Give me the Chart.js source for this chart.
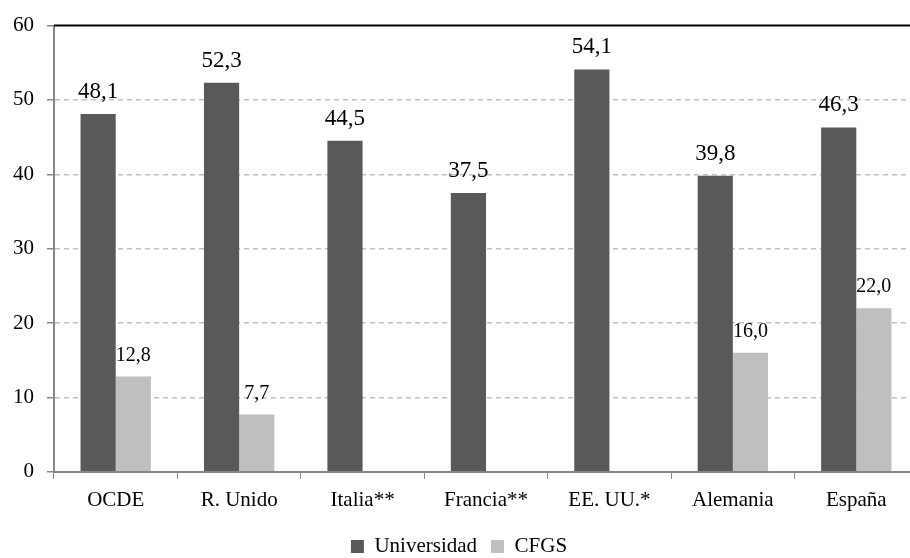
<!DOCTYPE html>
<html>
<head>
<meta charset="utf-8">
<script src="https://cdn.jsdelivr.net/npm/chart.js@4"></script>
<style>
  html, body { margin: 0; padding: 0; background: #fff; overflow: hidden; }
  #wrap { width: 918px; height: 558px; }
</style>
</head>
<body>
<div id="wrap"><canvas id="myChart"></canvas></div>
<script>
var categories = ['OCDE', 'R. Unido', 'Italia**', 'Francia**', 'EE. UU.*', 'Alemania', 'España'];
var universidad = [48.1, 52.3, 44.5, 37.5, 54.1, 39.8, 46.3];
var cfgs = [12.8, 7.7, null, null, null, 16.0, 22.0];
var yTicks = [0, 10, 20, 30, 40, 50, 60];

var serif = '"Liberation Serif", "DejaVu Serif", serif';

// value labels above the bars, comma decimals
var barLabels = {
    id: 'barLabels',
    afterDatasetsDraw: function(chart) {
        var c = chart.ctx;
        chart.data.datasets.forEach(function(ds, i) {
            var meta = chart.getDatasetMeta(i);
            meta.data.forEach(function(bar, j) {
                var v = ds.data[j];
                if (v === null || v === undefined) return;
                c.save();
                c.font = (i === 0 ? '23px ' : '20px ') + serif;
                c.fillStyle = '#000';
                c.textAlign = 'center';
                c.textBaseline = 'alphabetic';
                c.fillText(v.toFixed(1).replace('.', ','), bar.x, bar.y - 16);
                c.restore();
            });
        });
    }
};

// solid black line at the top of the value axis
var topLine = {
    id: 'topLine',
    beforeDatasetsDraw: function(chart) {
        var c = chart.ctx, y = chart.scales.y.getPixelForValue(60);
        c.save();
        c.strokeStyle = '#000';
        c.lineWidth = 2;
        c.beginPath();
        c.moveTo(chart.chartArea.left, y);
        c.lineTo(chart.width, y);
        c.stroke();
        c.restore();
    }
};

var ctx = document.getElementById('myChart').getContext('2d');
var myChart = new Chart(ctx, {
    type: 'bar',
    data: {
        labels: categories,
        datasets: [{
            label: 'Universidad',
            data: universidad,
            backgroundColor: '#595959'
        }, {
            label: 'CFGS',
            data: cfgs,
            backgroundColor: '#bfbfbf'
        }]
    },
    options: {
        responsive: true,
        maintainAspectRatio: false,
        animation: false,
        datasets: {
            bar: { categoryPercentage: 0.57, barPercentage: 1.0 }
        },
        layout: { padding: { top: 14, left: 0, right: 0, bottom: -9 } },
        plugins: {
            legend: {
                position: 'bottom',
                labels: {
                    color: '#000',
                    font: { family: serif, size: 21 },
                    boxWidth: 13,
                    boxHeight: 13,
                    padding: 14
                }
            },
            tooltip: { enabled: false }
        },
        scales: {
            x: {
                grid: {
                    offset: true,
                    drawOnChartArea: false,
                    drawTicks: true,
                    tickLength: 7,
                    color: '#868686'
                },
                border: { color: '#868686', width: 2 },
                ticks: {
                    color: '#000',
                    padding: 9,
                    font: { family: serif, size: 21 }
                }
            },
            y: {
                min: 0,
                max: 60,
                afterBuildTicks: function(axis) {
                    axis.ticks = yTicks.map(function(v) { return { value: v }; });
                },
                grid: {
                    color: function(c) {
                        return (c.tick && (c.tick.value === 0 || c.tick.value === 60)) ? 'rgba(0,0,0,0)' : '#c0c0c0';
                    },
                    lineWidth: 1.5,
                    tickLength: 7,
                    tickColor: '#868686'
                },
                border: { color: '#868686', width: 2, dash: [5, 4] },
                ticks: {
                    color: '#000',
                    padding: 13,
                    font: { family: serif, size: 21 }
                }
            }
        }
    },
    plugins: [barLabels, topLine]
});
</script>
</body>
</html>
